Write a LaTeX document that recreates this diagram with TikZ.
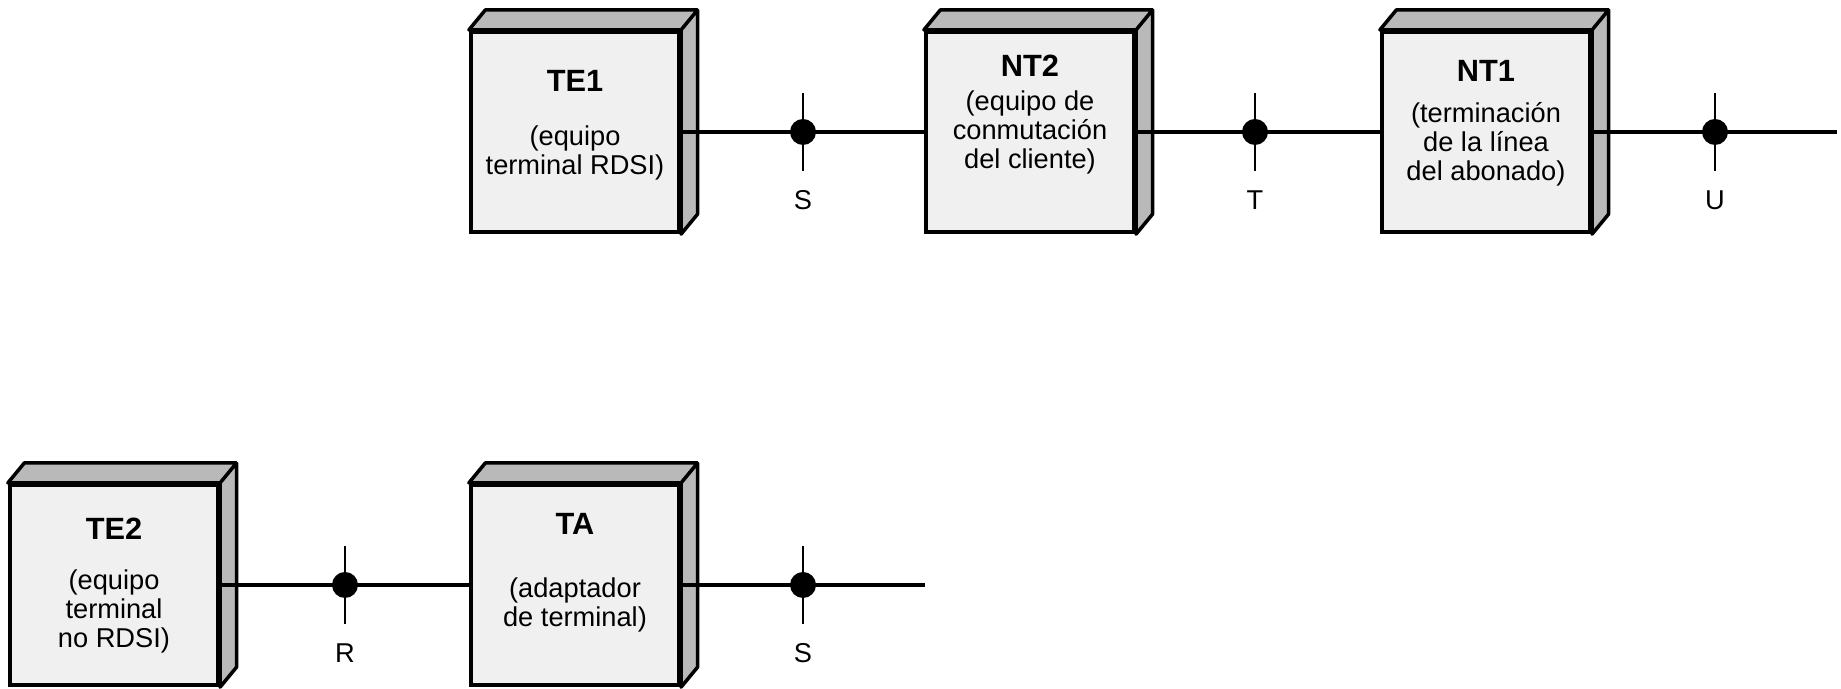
\documentclass[tikz,border=0pt]{standalone}
\usepackage{fontspec}
\setmainfont{Liberation Sans}
\usepackage{tikz}
\usetikzlibrary{positioning, calc}
\newcommand{\titulo}[1]{{\fontsize{17.5}{18}\selectfont\bfseries #1}}
\tikzset{
  equipo/.style={draw, line width=2.4pt, fill=gray!12, minimum width=4.16cm,
                 minimum height=4cm, inner sep=0pt},
  cara/.style={draw, line width=2pt, fill=gray!55, line join=round},
  texto/.style={align=center, inner sep=0pt, font=\fontsize{15.5}{16.5}\selectfont},
  linea/.style={line width=2pt},
  marca/.style={line width=1.1pt},
  punto/.style={circle, fill=black, minimum size=0.52cm, inner sep=0pt},
  etiqueta/.style={inner sep=0pt, font=\fontsize{15.5}{16.5}\selectfont},
}
\begin{document}
\begin{tikzpicture}
  \useasboundingbox (0,0) rectangle (36.82,13.78);

  % fila de arriba
  \node[equipo] (te1) at (11.5,11.14) {};
  \node[equipo] (nt2) at (20.6,11.14) {};
  \node[equipo] (nt1) at (29.72,11.14) {};
  % fila de abajo
  \node[equipo] (te2) at (2.28,2.08) {};
  \node[equipo] (ta) at (11.5,2.08) {};

  \foreach \n in {te1,nt2,nt1,te2,ta}
    \draw[cara] (\n.north west) -- ++(0.33,0.4) -- ([shift={(0.33,0.4)}]\n.north east)
      -- ([shift={(0.33,0.4)}]\n.south east) -- (\n.south east) -- (\n.north east) -- cycle
      (\n.north east) -- ++(0.33,0.4);

  \node[texto, below=0.8cm of te1.north] (te1-t)
    {\titulo{TE1}\\[0.5cm](equipo\\terminal RDSI)};
  \node[texto, below=0.5cm of nt2.north] (nt2-t)
    {\titulo{NT2}\\[0.1cm](equipo de\\conmutación\\del cliente)};
  \node[texto, below=0.6cm of nt1.north] (nt1-t)
    {\titulo{NT1}\\[0.24cm](terminación\\de la línea\\del abonado)};
  \node[texto, below=0.7cm of te2.north] (te2-t)
    {\titulo{TE2}\\[0.42cm](equipo\\terminal\\no RDSI)};
  \node[texto, below=0.6cm of ta.north] (ta-t)
    {\titulo{TA}\\[0.68cm](adaptador\\de terminal)};

  % puntos de referencia
  \node[punto] (s1) at (16.06,11.14) {};
  \node[punto] (t) at (25.1,11.14) {};
  \node[punto] (u) at (34.3,11.14) {};
  \node[punto] (r) at (6.9,2.08) {};
  \node[punto] (s2) at (16.06,2.08) {};
  \coordinate (finu) at (36.74,11.14);
  \coordinate (fins) at (18.5,2.08);

  \draw[linea] (te1.east) -- (s1.center) -- (nt2.west);
  \draw[linea] (nt2.east) -- (t.center) -- (nt1.west);
  \draw[linea] (nt1.east) -- (u.center) -- (finu);
  \draw[linea] (te2.east) -- (r.center) -- (ta.west);
  \draw[linea] (ta.east) -- (s2.center) -- (fins);

  \foreach \p in {s1,t,u,r,s2}
    \draw[marca] ([yshift=0.78cm]\p.center) -- ([yshift=-0.78cm]\p.center);

  \node[etiqueta, below=0.9cm of s1] (s1-l) {S};
  \node[etiqueta, below=0.9cm of t] (t-l) {T};
  \node[etiqueta, below=0.9cm of u] (u-l) {U};
  \node[etiqueta, below=0.9cm of r] (r-l) {R};
  \node[etiqueta, below=0.9cm of s2] (s2-l) {S};
\end{tikzpicture}
\end{document}
